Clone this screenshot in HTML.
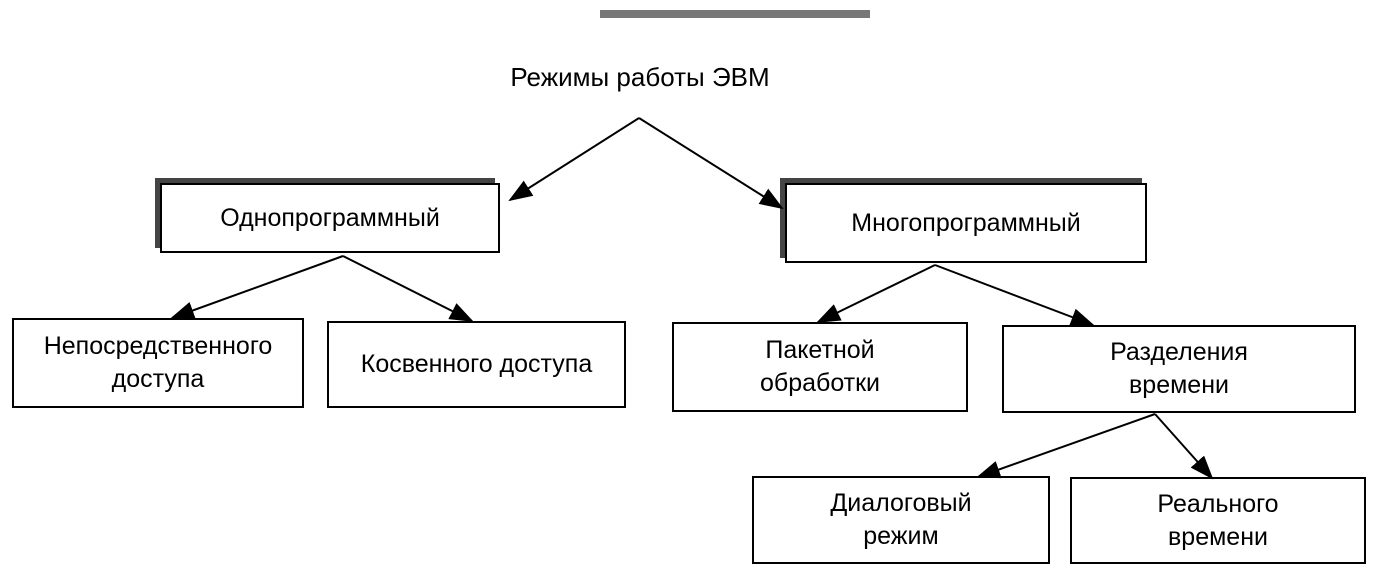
<!DOCTYPE html>
<html><head><meta charset="utf-8"><style>
body{margin:0;background:#fff;width:1380px;height:575px;overflow:hidden;position:relative;font-family:"Liberation Sans",sans-serif;}
.b{position:absolute;border:2px solid #000;box-sizing:border-box;display:flex;align-items:center;justify-content:center;text-align:center;font-size:25px;line-height:33px;color:#000;background:#fff}
.s{box-shadow:-5px -5px 0 #444}
svg{position:absolute;left:0;top:0}
</style></head><body>
<div style="position:absolute;left:440px;top:62px;width:400px;text-align:center;font-size:26px;">Режимы работы ЭВМ</div>
<div style="position:absolute;left:600px;top:10px;width:270px;height:8px;background:#777"></div>
<div class="b s" style="left:160px;top:183px;width:340px;height:70px">Однопрограммный</div>
<div class="b s" style="left:785px;top:183px;width:362px;height:80px">Многопрограммный</div>
<div class="b" style="left:12px;top:318px;width:292px;height:90px">Непосредственного<br>доступа</div>
<div class="b" style="left:327px;top:321px;width:299px;height:87px">Косвенного доступа</div>
<div class="b" style="left:672px;top:322px;width:296px;height:90px">Пакетной<br>обработки</div>
<div class="b" style="left:1002px;top:325px;width:354px;height:88px">Разделения<br>времени</div>
<div class="b" style="left:752px;top:476px;width:298px;height:88px">Диалоговый<br>режим</div>
<div class="b" style="left:1070px;top:477px;width:296px;height:87px">Реального<br>времени</div>
<svg width="1380" height="575"><defs><marker id="a" markerWidth="24" markerHeight="18" refX="22" refY="9" orient="auto" markerUnits="userSpaceOnUse" viewBox="0 0 24 18"><path d="M0 0L24 9L0 18z" fill="#000" stroke="none"/></marker></defs>
<g stroke="#000" stroke-width="2" fill="none">
<line x1="639" y1="118" x2="510" y2="200" marker-end="url(#a)"/>
<line x1="639" y1="118" x2="782" y2="208" marker-end="url(#a)"/>
<line x1="343" y1="256" x2="172" y2="318" marker-end="url(#a)"/>
<line x1="343" y1="256" x2="472" y2="321" marker-end="url(#a)"/>
<line x1="935" y1="265" x2="818" y2="322" marker-end="url(#a)"/>
<line x1="935" y1="265" x2="1093" y2="325" marker-end="url(#a)"/>
<line x1="1155" y1="414" x2="978" y2="477" marker-end="url(#a)"/>
<line x1="1155" y1="414" x2="1212" y2="478" marker-end="url(#a)"/>
</g>
</svg>
</body></html>
